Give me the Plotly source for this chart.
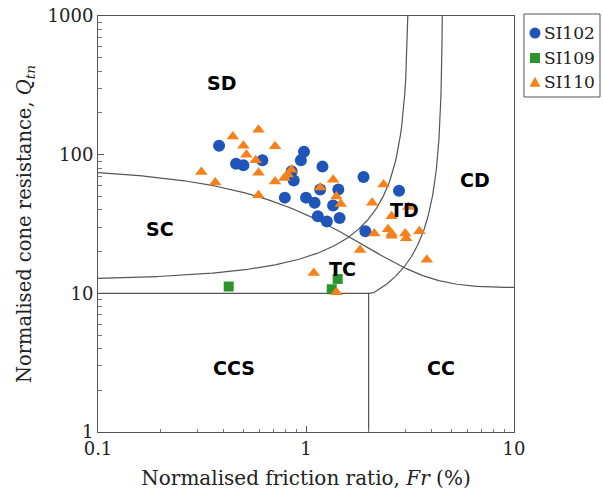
import numpy as np
import plotly.graph_objects as go

# ---- data ----
si102_fr = [0.382, 0.461, 0.500, 0.617, 0.978, 0.945, 1.20, 1.89, 0.853, 0.873, 0.791,
            1.00, 1.10, 1.17, 1.43, 1.35, 1.14, 1.26, 1.45, 1.93, 2.80]
si102_q = [116, 86, 84, 91, 105, 91, 82, 69, 76, 65, 49,
           49, 45, 56, 56, 43, 36, 33, 35, 28, 55]

si109_fr = [0.425, 1.42, 1.33]
si109_q = [11.2, 12.7, 10.7]

si110_fr = [0.591, 0.445, 0.500, 0.710, 0.517, 0.573, 0.314, 0.591, 0.850, 0.817, 0.787, 0.710,
            0.366, 0.591, 1.17, 1.35, 1.40, 1.47, 2.08, 2.36, 2.58, 3.10, 2.13, 2.48,
            2.58, 2.58, 3.00, 3.03, 3.51, 3.81, 1.82, 1.09, 1.40]
si110_q = [151, 135, 116, 115, 100, 91, 75, 74, 78, 72, 68, 64,
           63, 51, 58, 66, 50, 44, 45, 61, 36, 42, 27, 29,
           27, 26, 27, 25, 28, 17.5, 20.5, 14.0, 10.2]

series_names = ["SI102", "SI109", "SI110"]
series_colors = ["#1f55b8", "#2b952b", "#f7801a"]

# ---- zone boundaries (Robertson 2016) ----
ib_values = [32, 22]           # modified SBT index boundaries
cd_value = 70                  # contractive/dilative boundary
ccs_q = 10                     # lower horizontal boundary
ccs_fr = 2                     # vertical boundary

zone_labels = ["SD", "SC", "TD", "CD", "TC", "CCS", "CC"]
zone_fr = [0.394, 0.199, 2.99, 6.49, 1.506, 0.451, 4.46]
zone_q = [327, 28.9, 39.6, 65.3, 14.9, 2.88, 2.88]

x_ticks = [0.1, 1, 10]
y_ticks = [1, 10, 100, 1000]

line_col = "#555555"
fig = go.Figure()

# IB curves: Qtn = (70 IB - 1000) / (100 - IB Fr)
for ib in ib_values:
    fr_top = (100 - (70 * ib - 1000) / 1000.0) / ib
    if ib == 22:
        fr_start = (100 - (70 * ib - 1000) / ccs_q) / ib
        fr = np.logspace(np.log10(fr_start), np.log10(fr_top), 300)
        fr = np.concatenate([[ccs_fr], fr])
        q = (70 * ib - 1000) / (100 - ib * fr)
        q[0] = ccs_q
    else:
        fr = np.logspace(-1, np.log10(fr_top), 300)
        q = (70 * ib - 1000) / (100 - ib * fr)
    fig.add_trace(go.Scatter(x=fr, y=q, mode="lines", line=dict(color=line_col, width=1.2),
                             showlegend=False, hoverinfo="skip"))

# CD = 70 curve
fr = np.logspace(-1, 1, 300)
q = cd_value / (1 + 0.06 * fr) ** 17 + 11
fig.add_trace(go.Scatter(x=fr, y=q, mode="lines", line=dict(color=line_col, width=1.2),
                         showlegend=False, hoverinfo="skip"))

# CCS / CC boundaries
fig.add_trace(go.Scatter(x=[0.1, ccs_fr, ccs_fr], y=[ccs_q, ccs_q, 1], mode="lines",
                         line=dict(color=line_col, width=1.2), showlegend=False, hoverinfo="skip"))

fig.add_trace(go.Scatter(x=si102_fr, y=si102_q, mode="markers", name=series_names[0], showlegend=False,
                         marker=dict(symbol="circle", size=12, color=series_colors[0])))
fig.add_trace(go.Scatter(x=si109_fr, y=si109_q, mode="markers", name=series_names[1], showlegend=False,
                         marker=dict(symbol="square", size=10, color=series_colors[1])))
fig.add_trace(go.Scatter(x=si110_fr, y=si110_q, mode="markers", name=series_names[2], showlegend=False,
                         marker=dict(symbol="triangle-up", size=11, color=series_colors[2])))

for lab, xx, yy in zip(zone_labels, zone_fr, zone_q):
    fig.add_annotation(x=np.log10(xx), y=np.log10(yy), text="<b>%s</b>" % lab, showarrow=False,
                       font=dict(family="DejaVu Sans", size=19, color="black"))

# ---- legend (drawn in paper coordinates so it fits the narrow right margin) ----
serif = "DejaVu Serif"
fig.add_shape(type="rect", xref="paper", yref="paper", x0=1.024, x1=1.2067, y0=0.8053, y1=1.0048,
              line=dict(color="#555555", width=1), fillcolor="white")
leg_rows_y = [0.959, 0.899, 0.841]
sym_x = 1.0505
for i, (nm, col, yy) in enumerate(zip(series_names, series_colors, leg_rows_y)):
    if i == 0:
        fig.add_shape(type="circle", xref="paper", yref="paper", xsizemode="pixel", ysizemode="pixel",
                      xanchor=sym_x, yanchor=yy, x0=-5.5, x1=5.5, y0=-5.5, y1=5.5,
                      fillcolor=col, line=dict(width=0))
    elif i == 1:
        fig.add_shape(type="rect", xref="paper", yref="paper", xsizemode="pixel", ysizemode="pixel",
                      xanchor=sym_x, yanchor=yy, x0=-5, x1=5, y0=-5, y1=5,
                      fillcolor=col, line=dict(width=0))
    else:
        fig.add_shape(type="path", xref="paper", yref="paper", xsizemode="pixel", ysizemode="pixel",
                      xanchor=sym_x, yanchor=yy, path="M -5.5 -4.5 L 5.5 -4.5 L 0 5.5 Z",
                      fillcolor=col, line=dict(width=0))
    fig.add_annotation(xref="paper", yref="paper", x=1.068, y=yy, xanchor="left", yanchor="middle",
                       text=nm, showarrow=False, font=dict(family=serif, size=17, color="#222"))

def minor_vals(ticks):
    out = []
    for t in ticks[:-1]:
        out += [t * k for k in range(2, 10)]
    return out

axis_common = dict(type="log", showline=True, linecolor="#555555", linewidth=1, mirror=True,
                   ticks="inside", ticklen=6, tickcolor="#555555", showgrid=False, zeroline=False,
                   tickfont=dict(family=serif, size=18, color="#222"))

fig.update_xaxes(range=[-1, 1], tickvals=x_ticks, ticktext=[str(v) for v in x_ticks],
                 minor=dict(tickvals=minor_vals(x_ticks), ticks="inside", ticklen=3.5,
                            tickcolor="#777777", showgrid=False),
                 title=dict(text="Normalised friction ratio, <i>Fr</i> (%)",
                            font=dict(family=serif, size=20, color="#222"), standoff=13),
                 **axis_common)
fig.update_yaxes(range=[0, 3], tickvals=y_ticks, ticktext=[str(v) for v in y_ticks],
                 minor=dict(tickvals=minor_vals(y_ticks), ticks="inside", ticklen=3.5,
                            tickcolor="#777777", showgrid=False),
                 title=dict(text="Normalised cone resistance, <i>Q</i><sub><i>tn</i></sub>",
                            font=dict(family=serif, size=19.5, color="#222"), standoff=10),
                 **axis_common)

fig.update_layout(
    width=603, height=499, plot_bgcolor="white", paper_bgcolor="white",
    margin=dict(l=98, r=89, t=16, b=67, autoexpand=False),
    showlegend=False,
)

fig.write_html("out.html")
